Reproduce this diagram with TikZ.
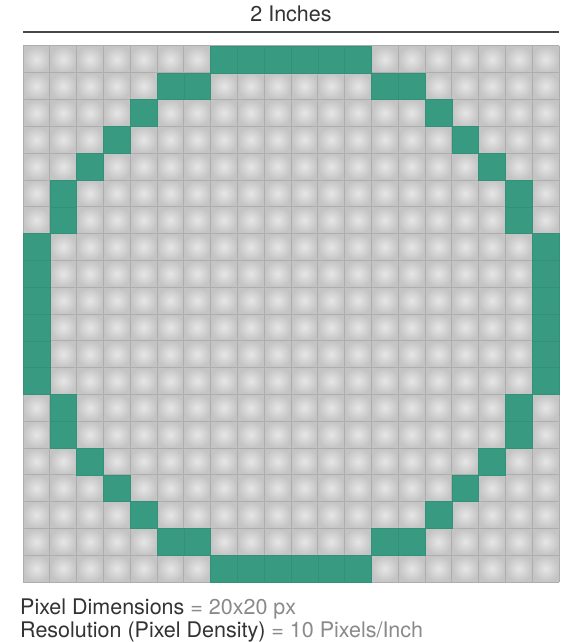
\documentclass[tikz,border=0pt]{standalone}
\usepackage{fontspec}
\setmainfont{TeX Gyre Heros}
\definecolor{cellin}{HTML}{E6E6E6}
\definecolor{cellout}{HTML}{C4C4C4}
\definecolor{gridline}{HTML}{AEAEAE}
\definecolor{pixgreen}{HTML}{379A81}
\definecolor{pixgreenline}{HTML}{33917A}
\definecolor{darktext}{HTML}{333333}
\definecolor{lighttext}{HTML}{8A8A8A}
\tikzset{
  graycell/.style={inner color=cellin, outer color=cellout},
  greencell/.style={fill=pixgreen, draw=pixgreenline, line width=0.5pt},
  rulerline/.style={draw=darktext!90, line width=1.8pt},
  labeltext/.style={font=\fontsize{21.5}{25}\selectfont, text=darktext, inner sep=0pt}
}
\begin{document}
\begin{tikzpicture}[x=1pt, y=-1pt]
\useasboundingbox (0,0) rectangle (564,642);
\fill[white] (0,0) rectangle (564,642);
\def\ox{23}\def\oy{46}\def\cs{26.8}
% gray cells
\foreach \c in {0,...,19}{
  \foreach \r in {0,...,19}{
    \shade[graycell] ({\ox+\c*\cs},{\oy+\r*\cs}) rectangle ++(\cs,\cs);
  }
}
% grid lines
\foreach \i in {0,...,20}{
  \draw[gridline, line width=1pt] ({\ox+\i*\cs},\oy) -- ++(0,{20*\cs});
  \draw[gridline, line width=1pt] (\ox,{\oy+\i*\cs}) -- ++({20*\cs},0);
}
% green cells (left half, mirrored)
\foreach \c/\r in {7/0,8/0,9/0,5/1,6/1,4/2,3/3,2/4,1/5,1/6,0/7,0/8,0/9,0/10,0/11,0/12,1/13,1/14,2/15,3/16,4/17,5/18,6/18,7/19,8/19,9/19}{
  \draw[greencell] ({\ox+\c*\cs},{\oy+\r*\cs}) rectangle ++(\cs,\cs);
  \draw[greencell] ({\ox+(19-\c)*\cs},{\oy+\r*\cs}) rectangle ++(\cs,\cs);
}
% ruler
\node[labeltext, anchor=base] (title) at (291,22) {2 Inches};
\coordinate (rl) at (23,32);
\coordinate (rr) at (559,32);
\draw[rulerline] (rl) -- (rr);
% bottom texts
\node[labeltext, anchor=base west] (dim) at (20,614) {Pixel Dimensions \textcolor{lighttext}{= 20x20 px}};
\node[labeltext, anchor=base west] (res) at (20,637) {Resolution (Pixel Density) \textcolor{lighttext}{= 10 Pixels/Inch}};
\end{tikzpicture}
\end{document}
